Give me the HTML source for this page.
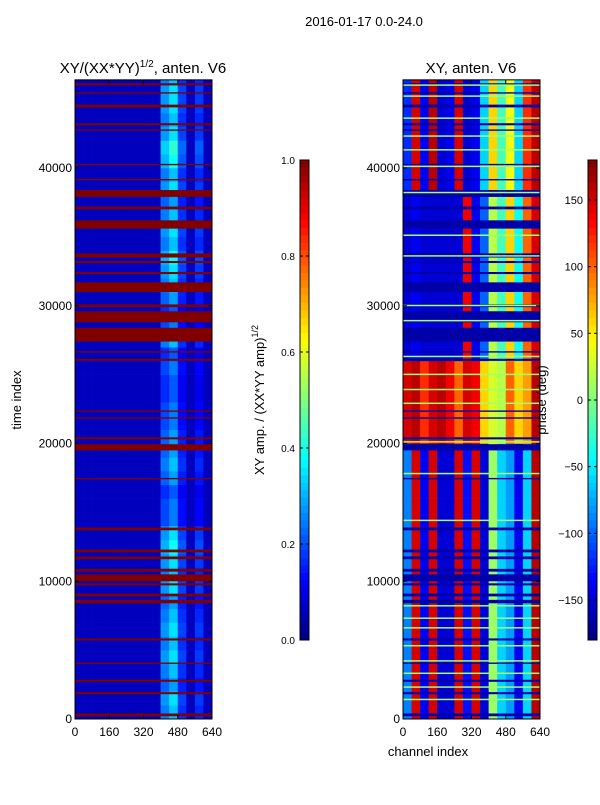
<!DOCTYPE html>
<html><head><meta charset="utf-8">
<style>
body{margin:0;background:#fff;}
svg{font-family:"Liberation Sans",sans-serif;}
</style></head>
<body>
<svg id="fig" width="600" height="800" viewBox="0 0 600 800" xmlns="http://www.w3.org/2000/svg">
<rect width="600" height="800" fill="#fff"/>
<text x="364" y="26" font-size="13" text-anchor="middle">2016-01-17 0.0-24.0</text>
<text x="143" y="73" font-size="15" text-anchor="middle">XY/(XX*YY)<tspan font-size="10" dy="-6">1/2</tspan><tspan dy="6">, anten. V6</tspan></text>
<text x="471" y="73" font-size="15" text-anchor="middle">XY, anten. V6</text>
<g id="left"></g>
<g id="right"></g>
<g id="axes"></g>
<text transform="translate(21,400) rotate(-90)" font-size="13" text-anchor="middle">time index</text>
<text x="428" y="756" font-size="13" text-anchor="middle">channel index</text>
<text transform="translate(264,400) rotate(-90)" font-size="13" text-anchor="middle">XY amp. / (XX*YY amp)<tspan font-size="9" dy="-6">1/2</tspan></text>
<text transform="translate(546,400) rotate(-90)" font-size="13" text-anchor="middle">phase (deg)</text>
</svg>
<script>
// ---- data ----
const xTicks=[0,160,320,480,640];
const yTicks=[0,10000,20000,30000,40000];
const ampTicks=[0.0,0.2,0.4,0.6,0.8,1.0];
const phaseTicks=[-150,-100,-50,0,50,100,150];
// left panel: per 40-channel column group amplitude weight (16 groups)
const ampColWeight=[0.06,0.06,0.06,0.06,0.06,0.06,0.06,0.06,0.06,0.06,0.55,0.7,0.38,0.0,0.36,0.06];
// per 1000-time-index row activity (47 rows)
const ampRowAct=[0.45,0.5,0.4,0.45,0.5,0.45,0.5,0.45,0.4,0.5,0.45,0.5,0.55,0.5,0.35,0.35,0.3,0.4,0.45,0.4,0.4,0.35,0.35,0.3,0.3,0.35,0.3,0.45,0.35,0.3,0.4,0.45,0.5,0.55,0.45,0.5,0.45,0.4,0.5,0.45,0.55,0.6,0.5,0.45,0.5,0.5,0.45];
// flagged (saturated) time bands [start,end]
const flagBands=[[200,400],[1800,1950],[2700,2850],[4000,4100],[5700,5850],[8400,8650],[8900,9100],[9700,9850],[10000,10500],[10700,10900],[11600,11800],[12100,12300],[13700,13900],[17400,17500],[19500,19950],[20300,20450],[21800,21900],[22300,22400],[26000,26150],[26600,26700],[27400,28400],[28800,29600],[29900,30100],[31000,31700],[32300,32450],[33100,33250],[33500,33800],[35600,36200],[37000,37200],[37900,38400],[39100,39200],[40200,40300],[42700,42800],[43100,43250],[44400,44600],[45400,45500],[46000,46150]];
// right panel phase profiles (deg) per column group
const phaseLow=[-90,150,-140,150,-150,-150,150,-130,150,-150,10,-60,-80,-140,-60,160];
const phaseMid=[150,160,120,150,160,140,100,150,140,60,30,20,100,60,80,160];
const phaseUpper=[-150,-140,-150,-150,-150,-150,-150,140,-140,-100,20,-20,60,-40,100,150];
const phaseTop=[-120,150,-140,160,-150,-140,150,-150,-140,-60,60,-20,40,-60,120,160];
// regime per 1000-time row: L low, M mid, U upper, T top
const phaseRegime="LLLLLLLLLLLLLLLLLLLLMMMMMMUUUUUUUUUUUUTTTTTTTTT";
const greenLines=[1400,2300,3300,4200,5300,6600,7300,8200,14400,17800,20100,22900,23900,25000,26300,28900,30000,33600,35100,38200,40100,41300,42300,43600,45200,46000];
// ---- geometry ----
const Y0=719,YPX=13.775/1000,YMAX=46400;
const L={x0:75,w:137},R={x0:403,w:137};
const ns="http://www.w3.org/2000/svg";
function yS(t){return Y0-t*YPX;}
function xS(p,c){return p.x0+c/640*p.w;}
function jet(v){v=Math.max(0,Math.min(1,v));const c=x=>Math.round(255*Math.max(0,Math.min(1,1.5-Math.abs(x))));return `rgb(${c(4*v-3)},${c(4*v-2)},${c(4*v-1)})`;}
function rect(g,x,y,w,h,fill,name){const r=document.createElementNS(ns,'rect');r.setAttribute('x',x);r.setAttribute('y',y);r.setAttribute('width',w);r.setAttribute('height',h);r.setAttribute('fill',fill);


g.appendChild(r);return r;}
function line(g,x1,y1,x2,y2,st,name){const l=document.createElementNS(ns,'line');l.setAttribute('x1',x1);l.setAttribute('y1',y1);l.setAttribute('x2',x2);l.setAttribute('y2',y2);l.setAttribute('stroke',st);l.setAttribute('stroke-width',1);


g.appendChild(l);}
function txt(g,x,y,s,anchor,name){const t=document.createElementNS(ns,'text');t.setAttribute('x',x);t.setAttribute('y',y);t.setAttribute('font-size',12);t.setAttribute('text-anchor',anchor);t.textContent=s;


g.appendChild(t);}
// ---- left heatmap ----
const gl=document.getElementById('left');
ampRowAct.forEach((a,r)=>{const t0=r*1000,t1=Math.min(YMAX,t0+1000);
 ampColWeight.forEach((w,c)=>{const v=w<0.1?0.06:Math.max(0.06,w*a);
  rect(gl,xS(L,c*40),yS(t1),xS(L,40)-L.x0+0.3,yS(t0)-yS(t1)+0.3,jet(v),'amp-cell');});});
flagBands.forEach(b=>rect(gl,L.x0,yS(b[1]),L.w,Math.max(1,yS(b[0])-yS(b[1])),jet(1),'amp-flag-band'));
// ---- right heatmap ----
const gr=document.getElementById('right');
const prof={L:phaseLow,M:phaseMid,U:phaseUpper,T:phaseTop};
phaseRegime.split('').forEach((k,r)=>{const t0=r*1000,t1=Math.min(YMAX,t0+1000);
 prof[k].forEach((p,c)=>rect(gr,xS(R,c*40),yS(t1),xS(R,40)-R.x0+0.3,yS(t0)-yS(t1)+0.3,jet((p+180)/360),'phase-cell'));});
flagBands.forEach(b=>rect(gr,R.x0,yS(b[1]),R.w,Math.max(1,yS(b[0])-yS(b[1])),jet(0.04),'phase-flag-band'));
greenLines.forEach(t=>rect(gr,R.x0,yS(t)-1,R.w,1.5,'#a0ff70','phase-green-line'));
// ---- axes ----
const ax=document.getElementById('axes');
[L,R].forEach((p,i)=>{
 const fr=document.createElementNS(ns,'rect');fr.setAttribute('x',p.x0);fr.setAttribute('y',yS(YMAX));fr.setAttribute('width',p.w);fr.setAttribute('height',Y0-yS(YMAX));fr.setAttribute('fill','none');fr.setAttribute('stroke','#000');
 
 
 ax.appendChild(fr);
 xTicks.forEach(v=>{const x=xS(p,v);line(ax,x,Y0,x,Y0-4,'#000','x-tick');line(ax,x,yS(YMAX),x,yS(YMAX)+4,'#000','x-tick');txt(ax,x,736,String(v),'middle','x-tick-label');});
 yTicks.forEach(v=>{const y=yS(v);line(ax,p.x0,y,p.x0+4,y,'#000','y-tick');line(ax,p.x0+p.w,y,p.x0+p.w-4,y,'#000','y-tick');txt(ax,p.x0-3,y+4,String(v),'end','y-tick-label');});
});
// colorbars (tick labels on the left side)
function cbar(x,vmin,vmax,ticks,fmt,name,fs){
 const top=160,bot=640,n=64;
 for(let i=0;i<n;i++){rect(ax,x,bot-(i+1)*(bot-top)/n,9,(bot-top)/n+0.4,jet((i+0.5)/n),name+'-segment');}
 const fr=document.createElementNS(ns,'rect');fr.setAttribute('x',x);fr.setAttribute('y',top);fr.setAttribute('width',9);fr.setAttribute('height',bot-top);fr.setAttribute('fill','none');fr.setAttribute('stroke','#000');
 
 
 ax.appendChild(fr);
 ticks.forEach(v=>{const y=bot-(v-vmin)/(vmax-vmin)*(bot-top);line(ax,x,y,x+3,y,'#000',name+'-tick');line(ax,x+9,y,x+6,y,'#000',name+'-tick');
  const t=document.createElementNS(ns,'text');t.setAttribute('x',x-5);t.setAttribute('y',y+4);t.setAttribute('text-anchor','end');t.setAttribute('font-size',fs);t.textContent=fmt(v);
  
  
  ax.appendChild(t);});
}
cbar(300,0,1,ampTicks,v=>v.toFixed(1),'amp-colorbar',10);
cbar(588,-180,180,phaseTicks,v=>v<0?'\u2212'+(-v):String(v),'phase-colorbar',11);
</script>
</body></html>
